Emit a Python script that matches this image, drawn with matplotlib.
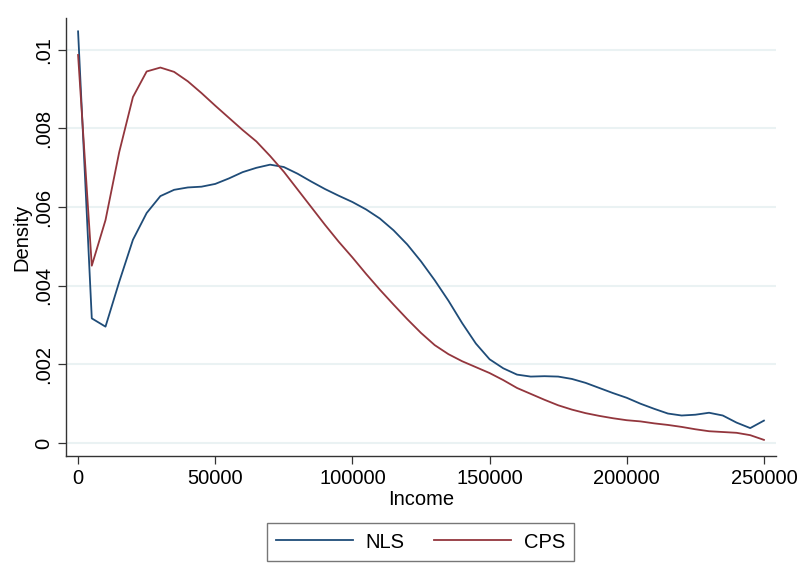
import numpy as np
import matplotlib
matplotlib.use('Agg')
import matplotlib.pyplot as plt
from matplotlib.ticker import FuncFormatter

plt.rcParams['font.family'] = ['Liberation Sans', 'DejaVu Sans']

# income grid (every 5000)
income = list(range(0, 250001, 5000))

nls = [0.01047, 0.00317, 0.00296, 0.0041, 0.00517, 0.00585, 0.00628, 0.00644, 0.0065, 0.00652,
       0.00659, 0.00673, 0.00689, 0.0070, 0.00708, 0.00702, 0.00685, 0.00665, 0.00646, 0.00629,
       0.00613, 0.00594, 0.00571, 0.00541, 0.00505, 0.00462, 0.00414, 0.00362, 0.00305, 0.00253,
       0.00213, 0.0019, 0.00174, 0.00169, 0.0017, 0.00169, 0.00163, 0.00153, 0.0014, 0.00127,
       0.00115, 0.001, 0.00087, 0.00075, 0.0007, 0.00072, 0.00077, 0.0007, 0.00052, 0.00038,
       0.00057]

cps = [0.00987, 0.00451, 0.00567, 0.0074, 0.0088, 0.00945, 0.00955, 0.00944, 0.0092, 0.0089,
       0.00858, 0.00827, 0.00796, 0.00767, 0.0073, 0.0069, 0.00645, 0.006, 0.00555, 0.00512,
       0.00472, 0.0043, 0.0039, 0.00352, 0.00315, 0.0028, 0.00249, 0.00226, 0.00208, 0.00193,
       0.00178, 0.0016, 0.0014, 0.00125, 0.0011, 0.00096, 0.00085, 0.00076, 0.00069, 0.00063,
       0.00058, 0.00055, 0.0005, 0.00046, 0.00041, 0.00035, 0.0003, 0.00028, 0.00026, 0.0002,
       0.00008]

yticks = [0, 0.002, 0.004, 0.006, 0.008, 0.01]
xticks = [0, 50000, 100000, 150000, 200000, 250000]

fig = plt.figure(figsize=(8.01, 5.73), dpi=100)
ax = fig.add_axes([66/801, 1 - 456/573, (776 - 66)/801, (456 - 18)/573])

ax.plot(income, nls, color='#1f4c78', lw=1.3, label='NLS')
ax.plot(income, cps, color='#93363d', lw=1.3, label='CPS')

ax.set_xlim(-4400, 254400)
ax.set_ylim(-0.00033, 0.01081)
ax.set_xticks(xticks)
ax.set_yticks(yticks)
ax.yaxis.set_major_formatter(FuncFormatter(lambda v, p: '0' if v == 0 else ('%g' % v).lstrip('0')))
ax.grid(axis='y', color='#eaf2f3', lw=1.5)
ax.set_axisbelow(True)
for s in ['top', 'right']:
    ax.spines[s].set_visible(False)
for s in ['left', 'bottom']:
    ax.spines[s].set_color('#333333')
    ax.spines[s].set_linewidth(1.0)
ax.tick_params(direction='out', length=6, width=0.9, colors='#333333', labelsize=14.5, labelcolor='black')
for t in ax.get_yticklabels():
    t.set_rotation(90)
    t.set_va('center')
ax.set_xlabel('Income', fontsize=14.5, labelpad=1)
ax.set_ylabel('Density', fontsize=14.5, labelpad=2)

leg = fig.legend(loc='center', bbox_to_anchor=(420.5/801, 1 - 542/573), ncol=2,
                 fontsize=14.5, frameon=True, fancybox=False, handlelength=3.8,
                 columnspacing=1.45, handletextpad=0.65, borderpad=0.45, borderaxespad=0)
leg.get_frame().set_edgecolor('#555555')
leg.get_frame().set_linewidth(1.0)

fig.savefig('out.png', dpi=100, facecolor='white')
